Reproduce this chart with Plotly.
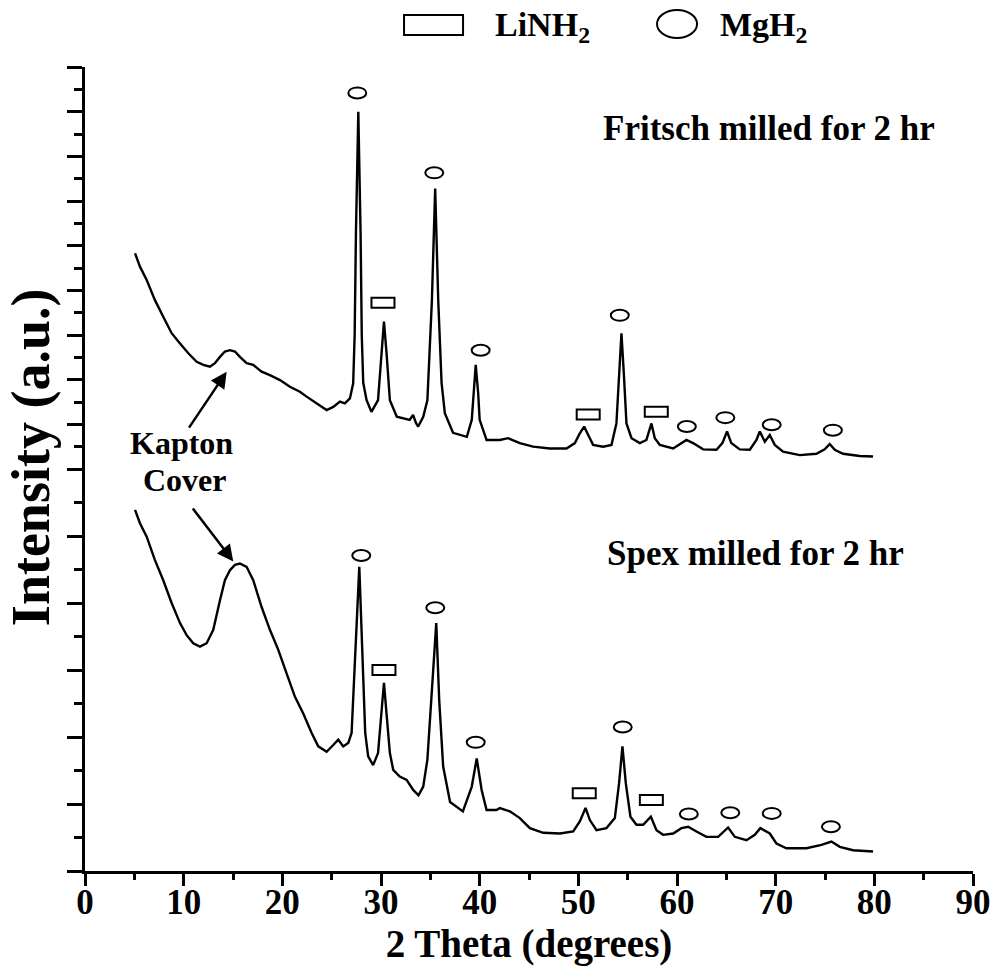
import plotly.graph_objects as go

# ---- data ----
theta_fritsch = [5.07, 5.57, 6.25, 7.09, 7.93, 8.78, 9.63, 10.47, 11.32, 11.99,
                 12.66, 13.17, 13.68, 14.18, 14.69, 15.2, 15.7, 16.38, 17.05, 17.9,
                 18.74, 19.76, 20.77, 21.78, 22.46, 23.47, 24.49, 25.16, 25.84, 26.34,
                 26.85, 27.18, 27.33, 27.46, 27.7, 27.93, 28.05, 28.2, 28.54, 29.03,
                 29.7, 30.06, 30.3, 30.56, 30.9, 31.6, 32.25, 32.9, 33.25, 33.54,
                 33.77, 34.28, 34.7, 35.16, 35.49, 35.8, 36.14, 36.47, 37.3, 38.7,
                 39.2, 39.41, 39.6, 39.85, 40.0, 40.7, 41.4, 42.05, 42.89, 44.07,
                 45.42, 47.11, 48.8, 49.65, 50.15, 50.59, 51.0, 51.5, 52.5, 53.36,
                 53.86, 54.13, 54.37, 54.61, 54.88, 55.39, 56.23, 56.9, 57.41, 57.75,
                 58.26, 59.61, 60.46, 60.96, 61.63, 62.65, 64.0, 64.6, 65.07, 65.5,
                 66.36, 67.38, 68.05, 68.39, 68.9, 69.4, 69.91, 70.75, 72.44, 74.13,
                 74.97, 75.48, 75.99, 76.83, 78.52, 79.87]
int_fritsch = [483, 453, 423, 378, 341, 304, 281, 259, 240, 233,
               229, 237, 251, 263, 266, 263, 251, 237, 233, 218,
               210, 199, 184, 173, 162, 147, 132, 139, 151, 147,
               158, 192, 300, 528, 800, 528, 300, 193, 154, 128,
               154, 260, 330, 260, 154, 117, 113, 110, 121, 103,
               95, 117, 154, 378, 628, 378, 193, 125, 81, 72,
               110, 169, 233, 169, 110, 65, 65, 65, 69, 58,
               50, 46, 46, 58, 80, 95, 76, 54, 50, 54,
               102, 214, 304, 214, 102, 69, 58, 65, 102, 69,
               54, 46, 58, 65, 58, 44, 43, 58, 84, 58,
               44, 43, 65, 84, 61, 76, 54, 39, 31, 34,
               44, 56, 43, 34, 29, 28]

theta_spex = [5.07, 5.57, 6.25, 7.09, 7.93, 8.78, 9.63, 10.3, 10.97, 11.65,
              12.33, 13.0, 13.68, 14.18, 14.69, 15.2, 15.7, 16.38, 17.05, 17.9,
              18.74, 19.59, 20.43, 21.28, 22.12, 22.97, 23.64, 24.49, 25.16, 25.67,
              26.17, 26.68, 27.02, 27.39, 27.8, 28.1, 28.4, 28.7, 29.2, 29.7,
              30.06, 30.3, 30.56, 30.9, 31.24, 31.9, 32.6, 33.26, 33.8, 34.28,
              34.7, 35.1, 35.6, 35.9, 36.3, 37.0, 38.3, 39.2, 39.7, 40.2,
              40.7, 41.7, 42.05, 43.06, 44.07, 45.09, 46.44, 48.13, 49.48, 50.15,
              50.73, 51.17, 51.84, 52.85, 53.7, 54.13, 54.47, 54.81, 55.28, 55.89,
              56.57, 57.35, 57.92, 58.59, 59.61, 60.45, 61.13, 61.97, 62.98, 64.17,
              65.18, 65.86, 67.04, 67.88, 68.45, 69.4, 70.08, 71.09, 73.12, 74.64,
              75.65, 76.5, 77.84, 79.87]
int_spex = [539, 519, 499, 464, 434, 400, 370, 352, 340, 335,
            340, 360, 404, 434, 449, 457, 459, 454, 434, 394,
            360, 330, 295, 260, 235, 206, 186, 178, 188, 196,
            186, 191, 206, 330, 454, 330, 206, 171, 158, 176,
            235, 281, 235, 176, 151, 141, 136, 121, 113, 126,
            166, 255, 370, 255, 156, 103, 89, 126, 168, 121,
            91, 91, 94, 89, 79, 64, 57, 56, 59, 74,
            94, 76, 61, 64, 79, 131, 186, 131, 81, 69,
            69, 81, 61, 54, 56, 64, 66, 59, 51, 51,
            65, 51, 46, 54, 64, 56, 41, 34, 34, 39,
            44, 36, 31, 29]

# peak identification marks (position of the symbol)
mgh2_fritsch_x = [27.6, 35.4, 40.1, 54.2, 61.0, 64.9, 69.6, 75.8]
mgh2_fritsch_y = [842, 663, 266, 344, 95, 115, 99, 87]
linh2_fritsch_x = [30.2, 51.0, 57.9]
linh2_fritsch_y = [372, 122, 128]
mgh2_spex_x = [28.0, 35.5, 39.6, 54.5, 61.2, 65.4, 69.6, 75.6]
mgh2_spex_y = [471, 393, 192, 215, 85, 87, 86, 66]
linh2_spex_x = [30.3, 50.6, 57.4]
linh2_spex_y = [300, 116, 106]

FONT = "Liberation Serif"

fig = go.Figure()
fig.add_trace(go.Scatter(x=theta_fritsch, y=int_fritsch, mode="lines", yaxis="y2",
                         line=dict(color="black", width=2.4), showlegend=False))
fig.add_trace(go.Scatter(x=theta_spex, y=int_spex, mode="lines", yaxis="y",
                         line=dict(color="black", width=2.4), showlegend=False))

shapes = []
def ellipse(x, y, yref, w=18, h=11):
    return dict(type="circle", xref="x", yref=yref, xsizemode="pixel", ysizemode="pixel",
                xanchor=x, yanchor=y, x0=-w / 2, x1=w / 2, y0=-h / 2, y1=h / 2,
                line=dict(color="black", width=2), fillcolor="rgba(0,0,0,0)")
def rect(x, y, yref, w=23, h=10):
    return dict(type="rect", xref="x", yref=yref, xsizemode="pixel", ysizemode="pixel",
                xanchor=x, yanchor=y, x0=-w / 2, x1=w / 2, y0=-h / 2, y1=h / 2,
                line=dict(color="black", width=2), fillcolor="rgba(0,0,0,0)")

for x, y in zip(mgh2_fritsch_x, mgh2_fritsch_y):
    shapes.append(ellipse(x, y, "y2"))
for x, y in zip(linh2_fritsch_x, linh2_fritsch_y):
    shapes.append(rect(x, y, "y2"))
for x, y in zip(mgh2_spex_x, mgh2_spex_y):
    shapes.append(ellipse(x, y, "y"))
for x, y in zip(linh2_spex_x, linh2_spex_y):
    shapes.append(rect(x, y, "y"))

# legend symbols (paper coordinates)
shapes.append(dict(type="rect", xref="paper", yref="paper", xsizemode="pixel", ysizemode="pixel",
                   xanchor=0.3925, yanchor=1.0522, x0=-29.5, x1=29.5, y0=-10, y1=10,
                   line=dict(color="black", width=2)))
shapes.append(dict(type="circle", xref="paper", yref="paper", xsizemode="pixel", ysizemode="pixel",
                   xanchor=0.6667, yanchor=1.0535, x0=-20, x1=20, y0=-14, y1=14,
                   line=dict(color="black", width=2)))

annotations = [
    dict(text="LiNH<sub>2</sub>", xref="paper", yref="paper", x=0.4595, y=1.05, xanchor="left",
         yanchor="middle", showarrow=False, font=dict(family=FONT, size=34, color="black", weight="bold")),
    dict(text="MgH<sub>2</sub>", xref="paper", yref="paper", x=0.7128, y=1.05, xanchor="left",
         yanchor="middle", showarrow=False, font=dict(family=FONT, size=34, color="black", weight="bold")),
    dict(text="Fritsch milled for 2 hr", xref="x", yref="paper", x=69.3, y=0.923, showarrow=False,
         xanchor="center", yanchor="middle",
         font=dict(family=FONT, size=35, color="black", weight="bold")),
    dict(text="Spex milled for 2 hr", xref="x", yref="paper", x=68.0, y=0.3955, showarrow=False,
         xanchor="center", yanchor="middle",
         font=dict(family=FONT, size=35, color="black", weight="bold")),
    dict(text="Kapton", xref="x", yref="paper", x=9.78, y=0.5323, showarrow=False,
         xanchor="center", yanchor="middle",
         font=dict(family=FONT, size=32, color="black", weight="bold")),
    dict(text="Cover", xref="x", yref="paper", x=10.13, y=0.4863, showarrow=False,
         xanchor="center", yanchor="middle",
         font=dict(family=FONT, size=32, color="black", weight="bold")),
    dict(text=" ", xref="x", yref="y2", x=14.36, y=218, ax=-39, ay=58, showarrow=True,
         arrowhead=2, arrowsize=1.3, arrowwidth=2.5, arrowcolor="black", font=dict(size=1)),
    dict(text=" ", xref="x", yref="y", x=15.03, y=462, ax=-42, ay=-55, showarrow=True,
         arrowhead=2, arrowsize=1.3, arrowwidth=2.5, arrowcolor="black", font=dict(size=1)),
    dict(text="Intensity (a.u.)", xref="paper", yref="paper", x=-0.0606, y=0.515, textangle=-90,
         xanchor="center", yanchor="middle",
         showarrow=False, font=dict(family=FONT, size=54, color="black", weight="bold")),
]

yax_common = dict(showticklabels=False, ticks="outside", ticklen=15, tickwidth=2.5, tickcolor="black",
                  showline=True, linewidth=3, linecolor="black", showgrid=False, zeroline=False,
                  dtick=100, tick0=0, anchor="x", automargin=False,
                  minor=dict(ticks="outside", ticklen=8, tickwidth=2.5, tickcolor="black", dtick=50, tick0=0))

fig.update_layout(
    width=992, height=967,
    margin=dict(l=85, r=19, t=67, b=96),
    paper_bgcolor="white", plot_bgcolor="white",
    showlegend=False,
    xaxis=dict(range=[0, 90], dtick=10, tick0=0, ticks="outside", ticklen=12, tickwidth=3,
               tickcolor="black", showline=True, linewidth=3, linecolor="black", showgrid=False,
               zeroline=False, automargin=False, ticklabelstandoff=-14,
               tickfont=dict(family=FONT, size=35, color="black", weight="bold"),
               minor=dict(ticks="outside", ticklen=6, tickwidth=3, tickcolor="black", dtick=5, tick0=0),
               title=dict(text="2 Theta (degrees)", standoff=0,
                          font=dict(family=FONT, size=39, color="black", weight="bold"))),
    yaxis=dict(domain=[0, 0.5], range=[0, 600], **yax_common),
    yaxis2=dict(domain=[0.5, 1], range=[0, 900], **yax_common),
    shapes=shapes,
    annotations=annotations,
)

fig.write_html("out.html")
